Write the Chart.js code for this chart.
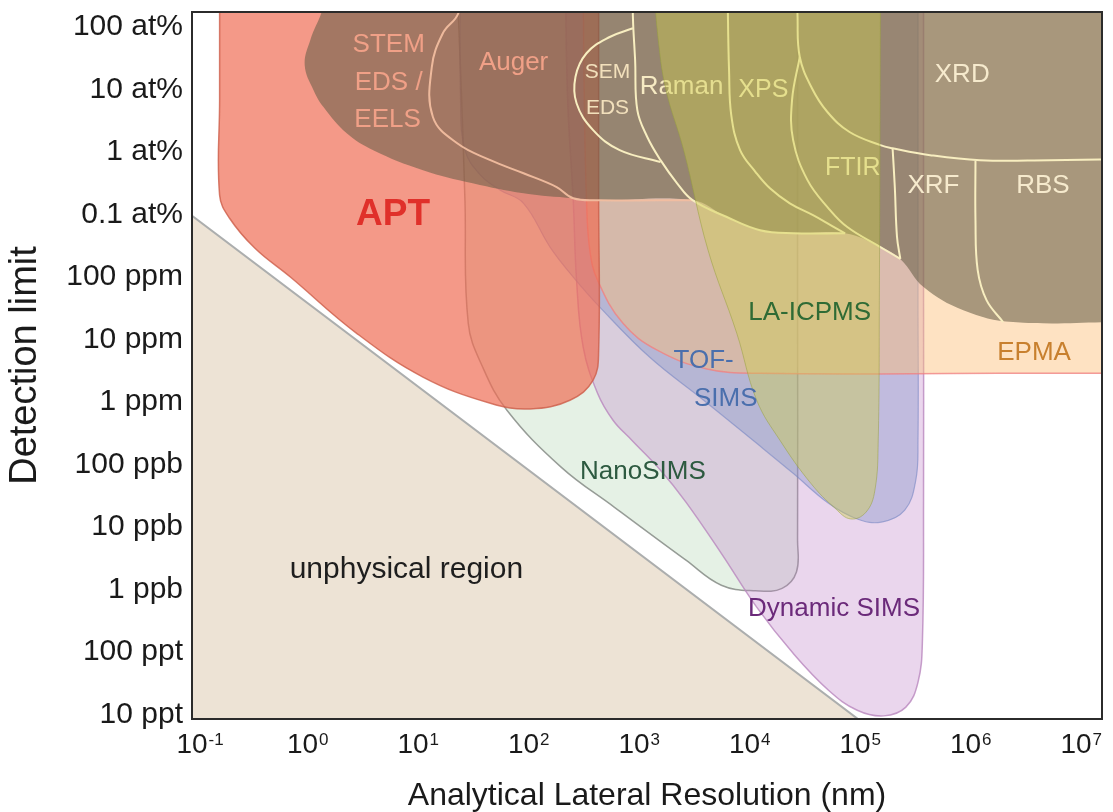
<!DOCTYPE html>
<html>
<head>
<meta charset="utf-8">
<script src="https://cdn.jsdelivr.net/npm/chart.js@4.4.0/dist/chart.umd.min.js"></script>
<style>
  body { margin: 0; background: #fff; }
  #wrap { width: 1113px; height: 812px; }
</style>
</head>
<body>
<div id="wrap"><canvas id="methodsChart"></canvas></div>
<script>
const FONT = '"Liberation Sans", Arial, Helvetica, sans-serif';

// axes, in log10 units
const xTickValues = [-1, 0, 1, 2, 3, 4, 5, 6, 7];
const xTickExponents = ['-1', '0', '1', '2', '3', '4', '5', '6', '7'];
const yTickValues = [0, -1, -2, -3, -4, -5, -6, -7, -8, -9, -10, -11];
const yTickLabels = ['100 at%', '10 at%', '1 at%', '0.1 at%', '100 ppm', '10 ppm', '1 ppm',
                     '100 ppb', '10 ppb', '1 ppb', '100 ppt', '10 ppt'];

// region outlines: [log10 lateral resolution (nm), log10 detection limit (fraction)]
const unphysical = [[-1.38, -2.51], [5.52, -11.73], [-1.38, -11.73]];
const nanoSIMS = [[1.40, 1.39], [1.40, 0.75], [1.41, 0.22], [1.44, -1.17], [1.47, -2.77], [1.50, -4.74],
  [1.63, -5.44], [1.85, -6.13], [2.34, -7.04], [2.82, -7.68], [3.47, -8.53], [3.79, -8.93], [4.10, -9.02],
  [4.34, -8.98], [4.47, -8.72], [4.48, -8.21], [4.48, -4.37], [4.48, -1.17], [4.48, 0.75], [4.48, 1.39]];
const dynamicSIMS = [[2.38, 1.39], [2.38, 0.75], [2.40, -1.17], [2.45, -2.77], [2.48, -4.05], [2.54, -5.12],
  [2.67, -5.86], [2.81, -6.29], [2.98, -6.61], [3.24, -7.09], [3.47, -7.60], [3.79, -8.42], [4.11, -9.28],
  [4.44, -10.02], [4.76, -10.61], [5.02, -10.93], [5.26, -11.02], [5.46, -10.88], [5.57, -10.48],
  [5.61, -9.81], [5.62, -7.57], [5.62, -4.37], [5.62, 0.75], [5.62, 1.39]];
const tofSIMS = [[1.43, 1.39], [1.43, 0.75], [1.43, -1.17], [1.47, -1.97], [1.61, -2.37], [1.79, -2.61],
  [2.00, -2.82], [2.24, -3.52], [2.45, -4.00], [2.69, -4.48], [3.14, -5.28], [3.63, -5.97], [4.11, -6.66],
  [4.44, -7.14], [4.76, -7.62], [5.02, -7.87], [5.24, -7.92], [5.45, -7.73], [5.55, -7.25], [5.57, -6.61],
  [5.57, -4.37], [5.57, 0.75], [5.57, 1.39]];
const epma = [[2.54, 1.39], [2.54, 0.75], [2.55, -1.17], [2.57, -2.77], [2.60, -3.57], [2.67, -4.05],
  [2.90, -4.74], [3.21, -5.17], [3.66, -5.47], [4.14, -5.54], [6.31, -5.54], [7.44, -5.54], [7.67, -5.54],
  [7.67, -4.90], [7.67, 0.75], [7.67, 1.39], [7.31, 1.39], [2.90, 1.39]];
const apt = [[-0.75, 1.39], [-0.75, 0.75], [-0.75, -1.17], [-0.75, -2.69], [-0.66, -3.06], [-0.43, -3.54],
  [-0.11, -4.00], [0.49, -4.90], [1.09, -5.60], [1.70, -6.02], [2.06, -6.11], [2.42, -5.97], [2.63, -5.65],
  [2.68, -5.17], [2.68, -2.77], [2.68, 0.75], [2.68, 1.39]];
const surface = [[0.38, 1.39], [0.18, 0.27], [0.07, -0.21], [0.02, -0.61], [0.10, -1.01], [0.19, -1.28],
  [0.40, -1.70], [0.64, -1.97], [1.09, -2.29], [1.54, -2.50], [2.00, -2.66], [2.45, -2.74], [2.69, -2.77],
  [3.53, -2.77], [3.84, -3.04], [4.14, -3.25], [4.44, -3.30], [4.91, -3.30], [5.23, -3.52], [5.41, -3.71],
  [5.62, -4.16], [5.98, -4.53], [6.43, -4.72], [7.44, -4.72], [7.67, -4.72], [7.67, 1.39]];
const laICPMS = [[3.18, 1.39], [3.18, 0.75], [3.22, -0.21], [3.29, -1.01], [3.45, -1.97], [3.67, -3.57],
  [3.93, -4.90], [4.11, -5.97], [4.32, -6.61], [4.60, -7.30], [4.82, -7.70], [4.96, -7.87], [5.10, -7.76],
  [5.18, -7.41], [5.21, -6.61], [5.22, -4.37], [5.23, 0.75], [5.23, 1.39]];

// borders between the surface techniques
const lineStemAuger = [[1.44, 0.75], [1.41, 0.22], [1.27, -0.10], [1.17, -0.64], [1.18, -1.44], [1.40, -1.86],
  [1.70, -2.13], [2.00, -2.34], [2.30, -2.56], [2.45, -2.74], [2.69, -2.77], [3.53, -2.77]];
const lineSEM = [[2.99, -0.02], [2.78, -0.16], [2.57, -0.42], [2.47, -0.80], [2.48, -1.22], [2.63, -1.65],
  [2.87, -1.97], [3.24, -2.16]];
const lineRaman = [[2.99, 0.75], [2.99, 0.16], [3.01, -0.53], [3.03, -1.33], [3.12, -1.76], [3.24, -2.13],
  [3.39, -2.50], [3.53, -2.77], [3.84, -3.04], [4.14, -3.25], [4.44, -3.30], [4.91, -3.30]];
const lineXPS = [[3.85, 0.75], [3.85, 0.16], [3.86, -0.69], [3.88, -1.41], [3.96, -1.97], [4.10, -2.32],
  [4.23, -2.58], [4.41, -2.82], [4.62, -3.01], [4.79, -3.18], [4.91, -3.30]];
const lineFTIR = [[4.50, -0.48], [4.43, -1.17], [4.44, -1.81], [4.57, -2.45], [4.76, -2.90], [4.93, -3.20],
  [5.23, -3.52], [5.41, -3.71]];
const lineXRD = [[4.48, 0.75], [4.48, 0.16], [4.50, -0.48], [4.61, -0.98], [4.75, -1.36], [4.95, -1.68],
  [5.23, -1.89], [5.34, -1.94], [5.68, -2.05], [6.13, -2.13], [6.76, -2.13], [7.67, -2.11]];
const lineXRF = [[5.34, -1.94], [5.36, -2.56], [5.38, -3.36], [5.41, -3.71]];
const lineRBS = [[6.09, -2.14], [6.09, -3.09], [6.11, -3.89], [6.19, -4.37], [6.34, -4.72]];

// labels inside the plot
const surfaceNames = ['STEM', 'EDS /', 'EELS', 'Auger', 'SEM', 'EDS', 'Raman', 'XPS', 'FTIR', 'XRD', 'XRF', 'RBS'];
const surfaceX = [0.78, 0.78, 0.77, 1.91, 2.76, 2.76, 3.43, 4.17, 4.98, 5.97, 5.71, 6.70];
const surfaceY = [-0.29, -0.90, -1.49, -0.58, -0.72, -1.30, -0.96, -1.01, -2.26, -0.77, -2.54, -2.54];
const methodNames = ['APT', 'LA-ICPMS', 'TOF-', 'SIMS', 'NanoSIMS', 'Dynamic SIMS', 'EPMA', 'unphysical region'];
const methodX = [0.82, 4.59, 3.63, 3.83, 3.08, 4.81, 6.62, 0.94];
const methodY = [-3.01, -4.58, -5.34, -5.95, -7.12, -9.30, -5.22, -8.69];

const surfaceStyle = [
  ['rgb(240,160,135)', 26], ['rgb(240,160,135)', 26], ['rgb(240,160,135)', 26], ['rgb(240,160,135)', 26],
  ['rgb(242,224,188)', 21], ['rgb(242,224,188)', 21], ['rgb(246,234,195)', 26], ['rgb(246,236,190)', 25],
  ['rgb(246,236,190)', 25], ['rgb(246,234,205)', 26], ['rgb(246,234,205)', 26], ['rgb(246,234,205)', 26]];
const methodStyle = [
  ['#e0302a', 37, 'bold '], ['#2f6b35', 26, ''], ['#4a6fad', 26, ''], ['#4a6fad', 26, ''],
  ['#2d5a40', 26, ''], ['#6b2a7a', 26, ''], ['#c8802e', 26, ''], ['#1e1e1e', 30, '']];

const cream = 'rgb(248,238,192)';
const layers = [
  { label: 'unphysical', pts: unphysical, closed: true, bg: 'rgb(237,227,213)', line: 'rgb(172,174,174)', width: 2, tension: 0 },
  { label: 'NanoSIMS', pts: nanoSIMS, closed: true, bg: 'rgba(160,205,160,0.28)', line: 'rgba(120,125,120,0.75)', width: 1.5, tension: 0.4 },
  { label: 'Dynamic SIMS', pts: dynamicSIMS, closed: true, bg: 'rgba(190,130,200,0.33)', line: 'rgba(185,135,190,0.8)', width: 1.5, tension: 0.4 },
  { label: 'TOF-SIMS', pts: tofSIMS, closed: true, bg: 'rgba(125,145,200,0.38)', line: 'rgba(120,135,195,0.6)', width: 1.2, tension: 0.4 },
  { label: 'EPMA', pts: epma, closed: true, bg: 'rgba(252,190,120,0.45)', line: 'rgba(240,130,130,0.8)', width: 1.5, tension: 0.4 },
  { label: 'APT', pts: apt, closed: true, bg: 'rgba(240,110,85,0.7)', line: 'rgba(205,95,75,0.8)', width: 1.5, tension: 0.4 },
  { label: 'surface', pts: surface, closed: true, bg: 'rgba(102,93,70,0.57)', line: 'rgba(0,0,0,0)', width: 1, tension: 0.4 },
  { label: 'STEM/Auger', pts: lineStemAuger, line: 'rgba(242,190,160,0.95)', width: 2, tension: 0.4 },
  { label: 'SEM', pts: lineSEM, line: cream, width: 2, tension: 0.4 },
  { label: 'Raman', pts: lineRaman, line: cream, width: 2, tension: 0.4 },
  { label: 'XPS', pts: lineXPS, line: cream, width: 2, tension: 0.4 },
  { label: 'FTIR', pts: lineFTIR, line: cream, width: 2, tension: 0.4 },
  { label: 'XRD', pts: lineXRD, line: cream, width: 2, tension: 0.4 },
  { label: 'XRF', pts: lineXRF, line: cream, width: 2, tension: 0.4 },
  { label: 'RBS', pts: lineRBS, line: cream, width: 2, tension: 0.4 },
  { label: 'LA-ICPMS', pts: laICPMS, closed: true, bg: 'rgba(205,205,75,0.42)', line: 'rgba(150,160,60,0.5)', width: 1, tension: 0.4 }
];
const lastLineIndex = layers.findIndex(l => l.label === 'RBS');

const datasets = layers.map((l, i) => ({
  label: l.label,
  data: (l.closed ? l.pts.concat([l.pts[0]]) : l.pts).map(p => ({ x: p[0], y: p[1] })),
  showLine: true,
  fill: l.closed ? 'shape' : false,
  backgroundColor: l.bg || 'rgba(0,0,0,0)',
  borderColor: l.line,
  borderWidth: l.width,
  tension: l.tension,
  borderJoinStyle: 'round',
  pointRadius: 0,
  pointHoverRadius: 0,
  order: layers.length - i
}));

function drawLabels(chart, names, xs, ys, styles) {
  const { ctx, scales: { x, y } } = chart;
  ctx.save();
  ctx.textAlign = 'center';
  ctx.textBaseline = 'middle';
  names.forEach((name, i) => {
    const st = styles[i];
    ctx.fillStyle = st[0];
    ctx.font = (st[2] || '') + st[1] + 'px ' + FONT;
    ctx.fillText(name, x.getPixelForValue(xs[i]), y.getPixelForValue(ys[i]));
  });
  ctx.restore();
}

const overlay = {
  id: 'overlay',
  afterDatasetDraw(chart, args) {
    if (args.index === lastLineIndex) drawLabels(chart, surfaceNames, surfaceX, surfaceY, surfaceStyle);
  },
  afterDatasetsDraw(chart) {
    drawLabels(chart, methodNames, methodX, methodY, methodStyle);
    const { ctx, chartArea: a, scales: { x } } = chart;
    ctx.save();
    ctx.strokeStyle = '#2b2b2b';
    ctx.lineWidth = 2;
    ctx.strokeRect(a.left, a.top, a.right - a.left, a.bottom - a.top);
    ctx.fillStyle = '#1a1a1a';
    ctx.textBaseline = 'middle';
    xTickValues.forEach((v, i) => {
      const px = x.getPixelForValue(v);
      ctx.font = '28px ' + FONT;
      ctx.textAlign = 'center';
      ctx.fillText('10', px, a.bottom + 26);
      const w = ctx.measureText('10').width;
      ctx.font = '17px ' + FONT;
      ctx.textAlign = 'left';
      ctx.fillText(xTickExponents[i], px + w / 2 + 1, a.bottom + 21);
    });
    ctx.restore();
  }
};

Chart.defaults.font.family = FONT;
Chart.defaults.color = '#1a1a1a';

const ctx = document.getElementById('methodsChart').getContext('2d');
const methodsChart = new Chart(ctx, {
  type: 'scatter',
  data: { datasets: datasets },
  options: {
    responsive: true,
    maintainAspectRatio: false,
    animation: false,
    events: [],
    layout: { padding: { top: 12, right: 11, left: 0, bottom: 0 } },
    elements: { line: { capBezierPoints: false } },
    plugins: { legend: { display: false }, tooltip: { enabled: false } },
    scales: {
      x: {
        type: 'linear',
        min: -1,
        max: 7.235,
        grid: { display: false },
        border: { display: false },
        ticks: { display: false },
        title: {
          display: true,
          text: 'Analytical Lateral Resolution (nm)',
          font: { size: 32, lineHeight: 1 },
          color: '#1a1a1a',
          padding: { top: 0, bottom: 0 }
        },
        afterFit: s => { s.height = 93; s.paddingLeft = 0; s.paddingRight = 0; }
      },
      y: {
        type: 'linear',
        min: -11.07,
        max: 0.24,
        grid: { display: false, drawTicks: false },
        border: { display: false },
        afterBuildTicks: s => { s.ticks = yTickValues.map(v => ({ value: v })); },
        ticks: {
          autoSkip: false,
          padding: 9,
          font: { size: 30 },
          color: '#1a1a1a',
          callback: (value, index) => yTickLabels[index]
        },
        title: {
          display: true,
          text: 'Detection limit',
          font: { size: 38, lineHeight: 1 },
          color: '#1a1a1a',
          padding: { top: 7, bottom: 0 }
        },
        afterFit: s => { s.width = 192; s.paddingTop = 0; s.paddingBottom = 0; }
      }
    }
  },
  plugins: [overlay]
});
</script>
</body>
</html>
